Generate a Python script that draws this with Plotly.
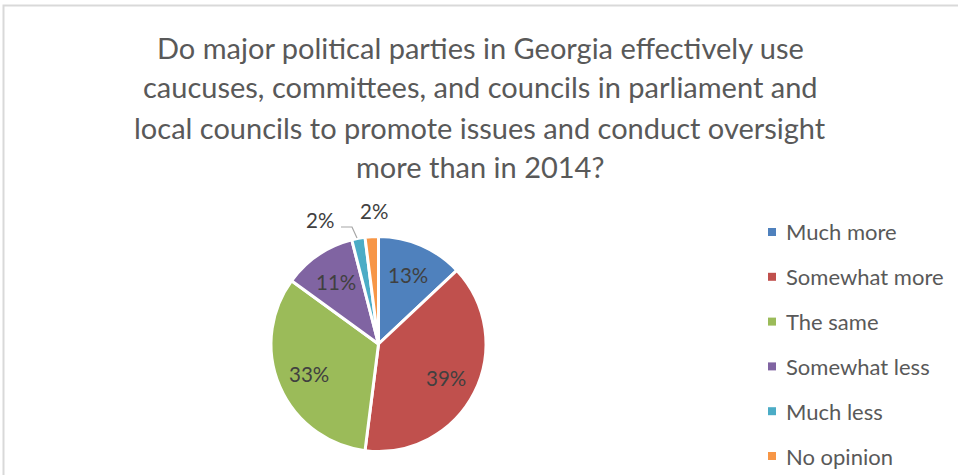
import math
import plotly.graph_objects as go

# Survey answers and their shares (percent)
categories = ["Much more", "Somewhat more", "The same", "Somewhat less", "Much less", "No opinion"]
shares = [13, 39, 33, 11, 2, 2]
colors = ["#4F81BD", "#C0504D", "#9BBB59", "#8064A2", "#4BACC6", "#F79646"]
title_lines = [
    "Do major political parties in Georgia effectively use",
    "caucuses, committees, and councils in parliament and",
    "local councils to promote issues and conduct oversight",
    "more than in 2014?",
]

W, H = 958, 475
FONT = "Lato"
TEXT_GREY = "#595959"
LABEL_GREY = "#404040"

fig = go.Figure()
cx, cy, r = 378.5, 344, 107.5
fig.add_trace(go.Pie(
    labels=categories,
    values=shares,
    sort=False,
    direction="clockwise",
    rotation=0,
    marker=dict(colors=colors, line=dict(color="white", width=3)),
    textposition="none",
    showlegend=False,
    domain=dict(x=[(cx - r) / W, (cx + r) / W], y=[1 - (cy + r) / H, 1 - (cy - r) / H]),
    hoverinfo="label+percent",
))

annotations = []
shapes = []

# title, one annotation per line
for i, line in enumerate(title_lines):
    annotations.append(dict(
        x=480 / W, y=1 - (47 + 40 * i) / H, xref="paper", yref="paper",
        text=line, showarrow=False, xanchor="center", yanchor="middle",
        font=dict(family=FONT, size=29, color=TEXT_GREY),
    ))

# data labels: big slices inside at 0.7 r along the slice's mid-angle
total = sum(shares)
cum = 0
for i, s in enumerate(shares):
    mid = (cum + s / 2) / total * 2 * math.pi
    cum += s
    if s < 5:
        continue
    lx = cx + 0.7 * r * math.sin(mid)
    ly = cy - 0.7 * r * math.cos(mid)
    annotations.append(dict(
        x=lx / W, y=1 - ly / H, xref="paper", yref="paper",
        text=f"{s}%", showarrow=False, xanchor="center", yanchor="middle",
        font=dict(family=FONT, size=20.5, color=LABEL_GREY),
    ))

# small slices get their labels outside the pie
outside_spots = {4: (320, 220), 5: (374, 211)}
for idx, (lx, ly) in outside_spots.items():
    annotations.append(dict(
        x=lx / W, y=1 - ly / H, xref="paper", yref="paper",
        text=f"{shares[idx]}%", showarrow=False, xanchor="center", yanchor="middle",
        font=dict(family=FONT, size=20.5, color=LABEL_GREY),
    ))
# leader line for "Much less"
shapes.append(dict(
    type="path", xref="paper", yref="paper",
    path=f"M {341 / W} {1 - 227 / H} L {352 / W} {1 - 227 / H} L {357 / W} {1 - 238 / H}",
    line=dict(color="#A6A6A6", width=1.2),
))

# legend drawn as squares plus labels
for i, (cat, col) in enumerate(zip(categories, colors)):
    ycen = 232 + 44.8 * i
    shapes.append(dict(
        type="rect", xref="paper", yref="paper",
        x0=768 / W, x1=776 / W, y0=1 - (ycen + 4) / H, y1=1 - (ycen - 4) / H,
        fillcolor=col, line=dict(width=0),
    ))
    annotations.append(dict(
        x=784 / W, y=1 - ycen / H, xref="paper", yref="paper",
        text=cat, showarrow=False, xanchor="left", yanchor="middle",
        font=dict(family=FONT, size=22, color=TEXT_GREY),
    ))

# chart frame
shapes.append(dict(
    type="rect", xref="paper", yref="paper",
    x0=3.5 / W, x1=1.2, y0=-0.2, y1=1 - 5.5 / H,
    line=dict(color="#D9D9D9", width=2), fillcolor="rgba(0,0,0,0)",
))

fig.update_layout(
    width=W, height=H,
    margin=dict(l=0, r=0, t=0, b=0),
    paper_bgcolor="white",
    plot_bgcolor="white",
    annotations=annotations,
    shapes=shapes,
)

fig.write_html("out.html")
